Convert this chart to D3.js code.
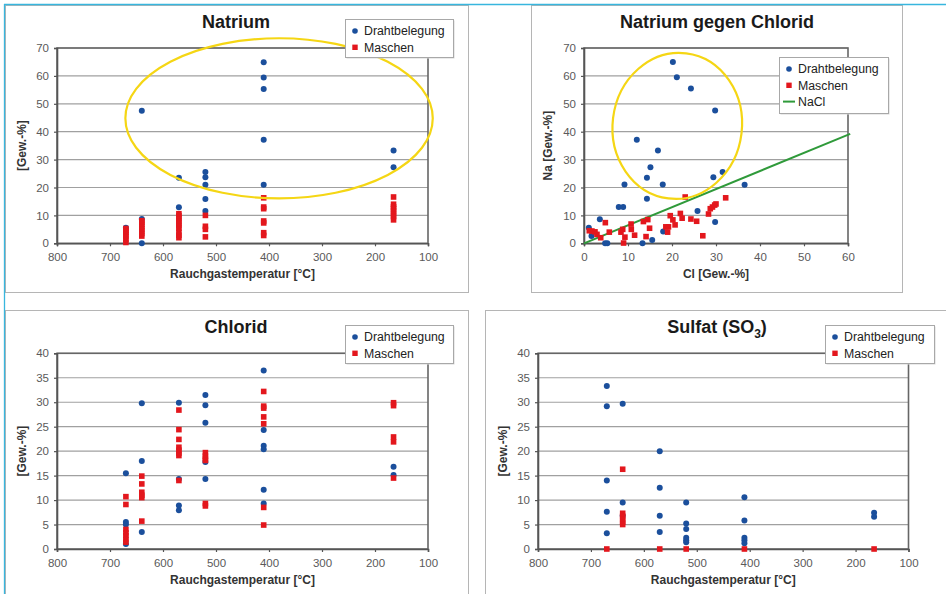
<!DOCTYPE html>
<html><head><meta charset="utf-8">
<script src="https://cdn.jsdelivr.net/npm/d3@7/dist/d3.min.js"></script>
<style>
html,body{margin:0;padding:0;background:#fff;}
svg{display:block;font-family:"Liberation Sans",Arial,sans-serif;}
</style></head>
<body>
<svg id="chart" width="946" height="594"></svg>
<script>
// ---------- DATA ----------
const tempTicks = [800, 700, 600, 500, 400, 300, 200, 100];
const naTicks = [0, 10, 20, 30, 40, 50, 60, 70];
const clTicks = [0, 5, 10, 15, 20, 25, 30, 35, 40];
const clXTicks = [0, 10, 20, 30, 40, 50, 60];
const seriesNames = ["Drahtbelegung", "Maschen", "NaCl"];

// Natrium vs temperature [temp, value]
const natriumDraht = [[670,5.6],[640,47.5],[640,8.7],[640,0],[570,23.5],[570,12.9],
  [520,25.6],[520,23.7],[520,21.0],[520,15.9],[520,11.6],
  [410,64.9],[410,59.4],[410,55.3],[410,37.1],[410,21.0],[165,33.3],[165,27.3]];
const natriumMaschen = [[670,0.3],[670,1.4],[670,2.4],[670,3.2],[670,4.0],[670,4.6],[670,5.3],
  [640,2.6],[640,3.5],[640,4.4],[640,5.2],[640,6.0],[640,6.9],[640,7.6],[640,8.1],
  [570,2.0],[570,2.9],[570,4.0],[570,5.4],[570,6.3],[570,7.2],[570,8.1],[570,9.0],[570,9.9],[570,10.6],
  [520,10.0],[520,6.1],[520,5.0],[520,2.3],
  [410,16.3],[410,13.0],[410,12.4],[410,8.0],[410,7.3],[410,3.8],[410,2.8],
  [165,16.6],[165,14.0],[165,13.1],[165,12.4],[165,11.5],[165,10.5],[165,9.6],[165,8.4]];

// Na against Cl [Cl, Na]
const naclDraht = [[20.2,65.0],[21.1,59.5],[24.3,55.5],[29.8,47.6],[12.0,37.1],[16.8,33.3],
  [15.1,27.3],[14.3,23.5],[17.9,21.1],[9.2,21.1],[14.3,16.0],[29.4,23.7],[31.5,25.6],
  [36.5,21.0],[7.9,13.0],[8.9,13.0],[25.8,11.6],[3.6,8.6],[29.8,7.6],[1.1,5.6],[1.7,2.6],
  [18.0,4.2],[15.5,1.2],[4.8,0],[5.3,0],[13.3,0]];
const naclMaschen = [[1.2,4.5],[1.8,4.4],[2.5,4.1],[2.95,3.2],[3.8,2.0],[4.85,7.4],[5.75,4.0],
  [8.4,4.0],[8.8,5.0],[9.0,0.1],[9.3,2.2],[10.7,6.9],[10.75,5.0],[11.5,2.9],[13.5,7.8],
  [14.1,2.4],[14.5,8.5],[14.9,5.4],[18.6,5.9],[19.2,5.9],[19.0,4.0],[19.6,9.9],[20.2,8.4],
  [20.7,6.6],[21.9,10.7],[22.3,9.0],[23.0,16.6],[24.3,8.7],[25.6,7.9],[27.0,2.7],[28.3,10.5],
  [28.7,12.4],[29.2,13.0],[29.7,13.7],[30.0,14.1],[32.2,16.3]];
const naclLineCl = [0, 60.5];
const naclLineNa = [0, 39.2];

// Chlorid vs temperature
const chloridDraht = [[670,15.5],[670,5.5],[670,5.0],[670,1.0],[640,29.8],[640,18.0],[640,3.5],
  [570,29.9],[570,14.3],[570,8.9],[570,7.9],[520,31.5],[520,29.4],[520,25.8],[520,17.8],[520,14.3],
  [410,36.5],[410,24.3],[410,21.1],[410,20.4],[410,12.1],[410,9.3],[165,16.8],[165,15.1]];
const chloridMaschen = [[670,10.7],[670,9.1],[670,4.0],[670,3.3],[670,2.7],[670,2.0],[670,1.4],
  [640,14.9],[640,13.3],[640,11.6],[640,11.0],[640,10.5],[640,5.7],
  [570,28.4],[570,24.4],[570,22.4],[570,20.8],[570,20.2],[570,19.6],[570,19.1],[570,14.0],
  [520,19.7],[520,19.0],[520,18.5],[520,18.1],[520,9.3],[520,8.8],
  [410,32.2],[410,29.2],[410,28.8],[410,27.0],[410,25.6],[410,8.5],[410,4.9],
  [165,29.9],[165,29.3],[165,22.9],[165,21.9],[165,14.5]];

// Sulfat vs temperature
const sulfatDraht = [[670,33.3],[670,29.2],[670,14.0],[670,7.6],[670,3.2],[640,29.7],[640,9.5],[640,6.8],
  [570,20.0],[570,12.5],[570,6.8],[570,3.5],[520,9.5],[520,5.2],[520,4.1],[520,2.3],[520,1.8],[520,1.4],
  [410,10.6],[410,5.8],[410,2.3],[410,1.8],[410,1.2],[165,7.4],[165,6.6]];
const sulfatMaschen = [[670,0],[640,16.3],[640,7.3],[640,6.7],[640,6.1],[640,5.5],[640,5.0],
  [570,0],[520,0],[410,0],[165,0]];

// highlight ellipses in data units: [cx, cy, rx, ry, rotation]
const natriumEllipse = [381, 44.8, 290, 28.7, 0];
const naclEllipse = [21.2, 42.1, 14.7, 26.2, 7];

// ---------- STYLE ----------
const BLUE = "#1b4f9c", RED = "#e3171d", GREEN = "#2f9a3a", YELLOW = "#f5d614";
const svg = d3.select("#chart");

// page frames
const frames = [[5,5,463,287],[531,5,371,287],[5,310,463,300],[485,310,470,300]];
svg.selectAll("rect.frame").data(frames).join("rect").attr("class","frame")
  .attr("x",d=>d[0]+0.5).attr("y",d=>d[1]+0.5).attr("width",d=>d[2]).attr("height",d=>d[3])
  .attr("fill","none").attr("stroke","#b5b5b5").attr("stroke-width",1);
svg.append("line").attr("x1",4).attr("x2",946).attr("y1",4.5).attr("y2",4.5).attr("stroke","#38b6de").attr("stroke-width",1.3);
svg.append("line").attr("x1",4.5).attr("x2",4.5).attr("y1",4).attr("y2",594).attr("stroke","#38b6de").attr("stroke-width",1.3);

function panel(o){
  const g = svg.append("g");
  const x = d3.scaleLinear().domain(o.xDomain).range([o.x0, o.x1]);
  const y = d3.scaleLinear().domain(o.yDomain).range([o.yB, o.yT]);
  // gridlines
  g.selectAll("line.grid").data(o.yTicks.slice(1)).join("line")
    .attr("x1",o.x0).attr("x2",o.x1).attr("y1",d=>y(d)).attr("y2",d=>y(d))
    .attr("stroke","#a0a0a0").attr("stroke-width",1.2);
  // plot border
  g.append("rect").attr("x",o.x0).attr("y",o.yT).attr("width",o.x1-o.x0).attr("height",o.yB-o.yT)
    .attr("fill","none").attr("stroke","#666").attr("stroke-width",1.6);
  // axes
  const ax = g.append("g").attr("transform",`translate(0,${o.yB})`)
    .call(d3.axisBottom(x).tickValues(o.xTicks).tickSize(3).tickPadding(7).tickFormat(d3.format("d")));
  const ay = g.append("g").attr("transform",`translate(${o.x0},0)`)
    .call(d3.axisLeft(y).tickValues(o.yTicks).tickSize(3).tickPadding(5).tickFormat(d3.format("d")));
  [ax, ay].forEach(a=>{
    a.select(".domain").attr("stroke","#555").attr("stroke-width",1.6);
    a.selectAll(".tick line").attr("stroke","#555").attr("stroke-width",1.2);
    a.selectAll(".tick text").attr("fill","#5a5a5a").attr("font-size",11.5)
      .attr("font-family",'"Liberation Sans",Arial,sans-serif');
  });
  // NaCl line
  if (o.line){
    g.append("line").attr("x1",x(o.line[0][0])).attr("y1",y(o.line[1][0]))
      .attr("x2",x(o.line[0][1])).attr("y2",y(o.line[1][1]))
      .attr("stroke",GREEN).attr("stroke-width",2);
  }
  // points
  g.selectAll("circle.p").data(o.blue).join("circle")
    .attr("cx",d=>x(d[0])).attr("cy",d=>y(d[1])).attr("r",3).attr("fill",BLUE);
  const s = 5.6;
  g.selectAll("rect.p").data(o.red).join("rect")
    .attr("x",d=>x(d[0])-s/2).attr("y",d=>y(d[1])-s/2).attr("width",s).attr("height",s).attr("fill",RED);
  // ellipse
  if (o.ellipse){
    const e = o.ellipse;
    const cx = x(e[0]), cy = y(e[1]);
    const rx = Math.abs(x(e[0]+e[2]) - cx), ry = Math.abs(y(e[1]+e[3]) - cy);
    g.append("ellipse").attr("cx",cx).attr("cy",cy).attr("rx",rx).attr("ry",ry)
      .attr("transform",`rotate(${e[4]},${cx},${cy})`)
      .attr("fill","none").attr("stroke",YELLOW).attr("stroke-width",2.2);
  }
  // title
  const t = g.append("text").attr("x",o.titleX).attr("y",o.titleY).attr("text-anchor","middle")
    .attr("font-size",18).attr("font-weight","bold").attr("fill","#1a1a1a");
  if (o.titleSub){
    t.append("tspan").text(o.title);
    t.append("tspan").attr("font-size",12).attr("dy",5).text(o.titleSub);
    t.append("tspan").attr("dy",-5).text(")");
  } else t.text(o.title);
  // axis titles
  g.append("text").attr("x",(o.x0+o.x1)/2).attr("y",o.yB+35).attr("text-anchor","middle")
    .attr("font-size",12).attr("font-weight","bold").attr("fill","#333").text(o.xTitle);
  g.append("text").attr("transform",`translate(${o.yTitleX},${(o.yT+o.yB)/2}) rotate(-90)`)
    .attr("text-anchor","middle").attr("font-size",12).attr("font-weight","bold").attr("fill","#333").text(o.yTitle);
  // legend
  const L = o.legend;
  const lg = g.append("g");
  lg.append("rect").attr("x",L.x+1.5).attr("y",L.y+1.5).attr("width",L.w).attr("height",L.h).attr("fill","#d8d8d8");
  lg.append("rect").attr("x",L.x+0.5).attr("y",L.y+0.5).attr("width",L.w).attr("height",L.h)
    .attr("fill","#fff").attr("stroke","#a8a8a8").attr("stroke-width",1);
  const items = seriesNames.slice(0, L.n);
  items.forEach((name,i)=>{
    const cy = L.y + 12 + i*16.3;
    if (i===0) lg.append("circle").attr("cx",L.x+10).attr("cy",cy).attr("r",2.8).attr("fill",BLUE);
    else if (i===1) lg.append("rect").attr("x",L.x+10-2.7).attr("y",cy-2.7).attr("width",5.4).attr("height",5.4).attr("fill",RED);
    else lg.append("line").attr("x1",L.x+4).attr("x2",L.x+16).attr("y1",cy).attr("y2",cy).attr("stroke",GREEN).attr("stroke-width",2);
    lg.append("text").attr("x",L.x+19).attr("y",cy+4.3).attr("font-size",12.3).attr("fill","#222").text(name);
  });
}

panel({x0:57,x1:428,yT:48,yB:243.3,xDomain:[800,100],yDomain:[0,70],xTicks:tempTicks,yTicks:naTicks,
  blue:natriumDraht,red:natriumMaschen,ellipse:natriumEllipse,title:"Natrium",titleX:236,titleY:28,
  xTitle:"Rauchgastemperatur [°C]",yTitle:"[Gew.-%]",yTitleX:26,legend:{x:345,y:19,w:108,h:38,n:2}});
panel({x0:584,x1:848,yT:48,yB:243.3,xDomain:[0,60],yDomain:[0,70],xTicks:clXTicks,yTicks:naTicks,
  blue:naclDraht,red:naclMaschen,ellipse:naclEllipse,line:[naclLineCl,naclLineNa],title:"Natrium gegen Chlorid",titleX:717,titleY:28,
  xTitle:"Cl [Gew.-%]",yTitle:"Na [Gew.-%]",yTitleX:552,legend:{x:779,y:57,w:109,h:56,n:3}});
panel({x0:57,x1:428,yT:353.3,yB:549,xDomain:[800,100],yDomain:[0,40],xTicks:tempTicks,yTicks:clTicks,
  blue:chloridDraht,red:chloridMaschen,title:"Chlorid",titleX:236,titleY:333,
  xTitle:"Rauchgastemperatur [°C]",yTitle:"[Gew.-%]",yTitleX:26,legend:{x:345,y:325,w:108,h:38,n:2}});
panel({x0:538,x1:908.5,yT:353.3,yB:549,xDomain:[800,100],yDomain:[0,40],xTicks:tempTicks,yTicks:clTicks,
  blue:sulfatDraht,red:sulfatMaschen,title:"Sulfat (SO",titleSub:"3",titleX:717,titleY:333,
  xTitle:"Rauchgastemperatur [°C]",yTitle:"[Gew.-%]",yTitleX:507,legend:{x:825,y:325,w:109,h:38,n:2}});
</script>
</body></html>
